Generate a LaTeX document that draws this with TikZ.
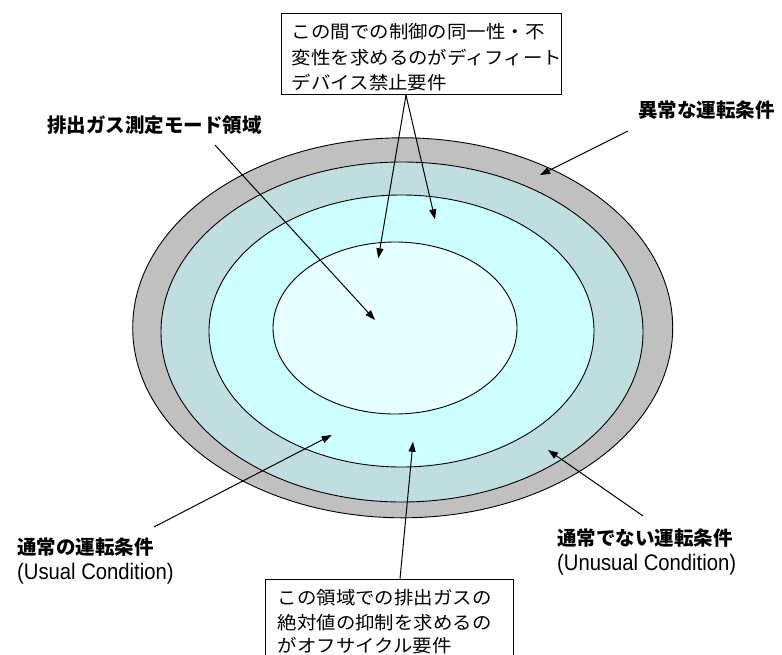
\documentclass[tikz,border=0pt]{standalone}
\usepackage{fontspec}
\setmainfont{Liberation Sans}
\newfontfamily\jp{Noto Sans CJK JP}
\newfontfamily\jpw[FakeStretch=1.08]{Noto Sans CJK JP}
\newfontfamily\en[FakeStretch=0.9]{Liberation Sans}
\usetikzlibrary{arrows.meta}
\definecolor{cgray}{HTML}{C0C0C0}
\definecolor{cband}{HTML}{C0DEE0}
\definecolor{ccyan}{HTML}{CCFFFF}
\definecolor{cinner}{HTML}{E6FFFF}
\begin{document}
\begin{tikzpicture}[x=1pt,y=-1pt,
  arr/.style={-{Triangle[length=10pt,width=7pt]}, line width=1pt},
  ell/.style={draw=black, line width=0.9pt},
  jpl/.style={font=\jpw\fontsize{18}{24}\selectfont, anchor=west, inner sep=0pt, text height=15.8pt, text depth=2.3pt},
  jpb/.style={font=\jp\bfseries\fontsize{19.5}{24}\selectfont, anchor=west, inner sep=0pt, text height=17.2pt, text depth=2.5pt},
  enl/.style={font=\en\fontsize{22.5}{24}\selectfont, anchor=west, inner sep=0pt, text height=17.2pt, text depth=2.5pt},
  boxs/.style={draw, line width=0.9pt, fill=white, anchor=north west, inner sep=0pt}]
\useasboundingbox (0,0) rectangle (782,654);
% ellipses
\draw[ell, fill=cgray]  (402.7,327.8) ellipse [x radius=270pt, y radius=190pt];
\draw[ell, fill=cband]  (402,332) ellipse [x radius=241pt, y radius=170pt];
\draw[ell, fill=ccyan]  (401.5,331) ellipse [x radius=192.5pt, y radius=136pt];
\draw[ell, fill=cinner] (395,328) ellipse [x radius=122pt, y radius=86pt];
% arrow tips
\coordinate (tipA) at (378.3,258.3);
\coordinate (tipB) at (435,219.3);
\coordinate (tipM) at (375,320);
\coordinate (tipAb) at (540,175);
\coordinate (tipU) at (331.7,435);
\coordinate (tipUn) at (548,450);
\coordinate (tipBot) at (413,441.7);
% top box
\node[boxs, minimum width=280.3pt, minimum height=81.6pt] (topbox) at (280.7,12.7) {};
\node[jpl] (t1) at (291.7,31.5) {この間での制御の同一性・不};
\node[jpl] (t2) at (291.7,57.5) {変性を求めるのがディフィート};
\node[jpl] (t3) at (291.7,83) {デバイス禁止要件};
% bottom box
\node[boxs, minimum width=247.5pt, minimum height=100pt] (botbox) at (265,579) {};
\node[jpl] (b1) at (277.5,598) {この領域での排出ガスの};
\node[jpl] (b2) at (277.5,623) {絶対値の抑制を求めるの};
\node[jpl] (b3) at (277.5,646) {がオフサイクル要件};
% labels
\node[jpb] (abn) at (638,110) {異常な運転条件};
\node[jpb] (meas) at (47,125) {排出ガス測定モード領域};
\node[jpb] (usual) at (17,547) {通常の運転条件};
\node[enl] (usualen) at (17,572) {(Usual Condition)};
\node[jpb] (unusual) at (557,538) {通常でない運転条件};
\node[enl] (unusualen) at (557,563) {(Unusual Condition)};
% arrows
\draw[arr] ([xshift=125.3pt]topbox.south west) -- (tipA);
\draw[arr] ([xshift=125.3pt]topbox.south west) -- (tipB);
\draw[arr] ([xshift=168pt,yshift=-10pt]meas.south west) -- (tipM);
\draw[arr] ([xshift=-10pt,yshift=-11pt]abn.south west) -- (tipAb);
\draw[arr] ([xshift=137pt,yshift=10pt]usual.north west) -- (tipU);
\draw[arr] ([xshift=86pt,yshift=12pt]unusual.north west) -- (tipUn);
\draw[arr] ([xshift=135pt]botbox.north west) -- (tipBot);
\end{tikzpicture}
\end{document}
